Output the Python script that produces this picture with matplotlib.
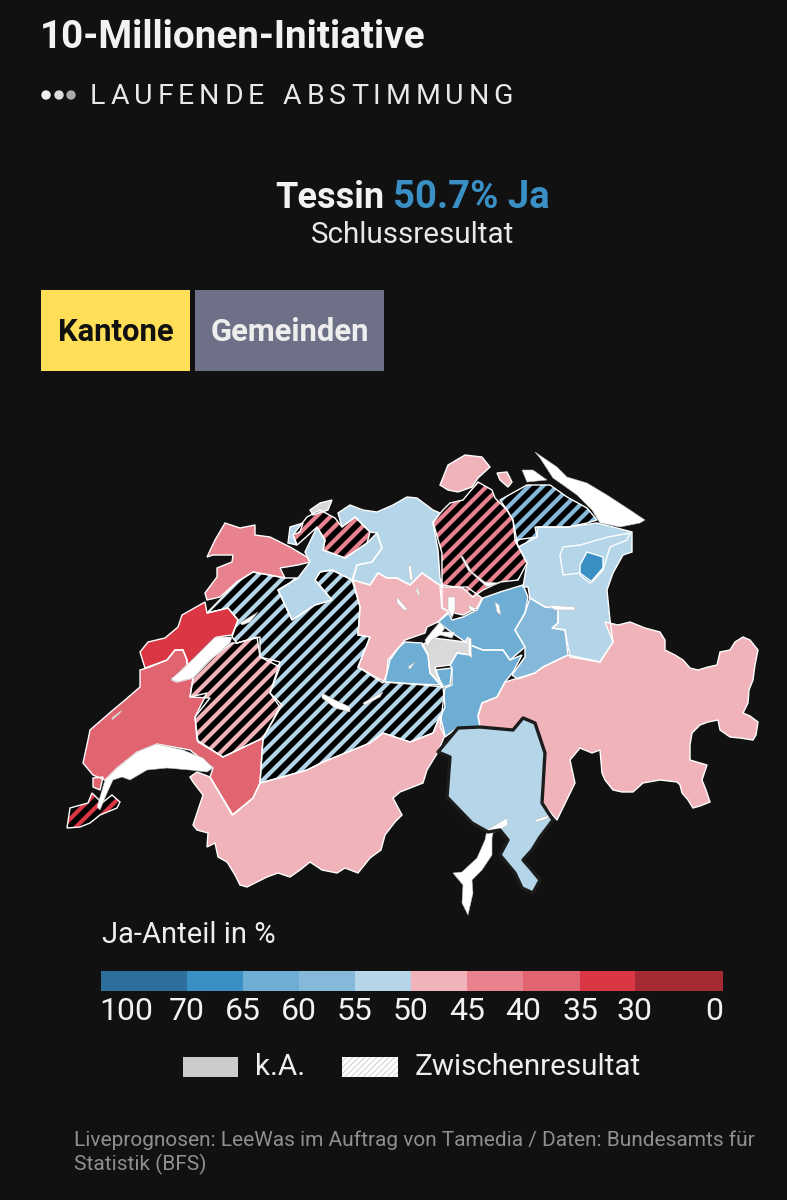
import matplotlib
matplotlib.use("Agg")
import matplotlib.pyplot as plt
import numpy as np
from matplotlib.collections import LineCollection
from matplotlib.patches import Circle, Polygon, Rectangle

BG = "#111111"
FONT = "Roboto"

# legend classes, Ja-Anteil in %
BIN_EDGES = [100, 70, 65, 60, 55, 50, 45, 40, 35, 30, 0]
BIN_COLORS = ["#2f6f9b", "#3a8fc4", "#6eaed4", "#86b8da", "#b5d6e8",
              "#f0b3b9", "#e7828e", "#e06570", "#da3644", "#a42a33"]
LEGEND_POS = [101, 187, 243, 299, 355, 411, 467, 523, 580, 635, 723]

# estimated share per canton, None = k.A.
JA_SHARE = {
    "GE": 32, "VD": 37, "VD2": 37, "NE": 32, "JU": 42, "BE": 52, "FR": 47, "SO": 52, "SO2": 52,
    "BL": 42, "BS": None, "AG": 52, "LU": 47, "ZG": 47, "SZ": 62, "GL": 57,
    "UR": 62, "NW": None, "OW": 62, "OW2": 62, "ZH": 42, "SH": 47, "SH2": 47, "TG": 57,
    "SG": 52, "AR": 52, "AI": 67, "GR": 47, "TI": 50.7, "VS": 47,
}
INTERIM = ["GE", "FR", "BE", "BL", "ZH", "TG"]

# outlines in map units
GE = [(67, 828), (70, 808), (88, 803), (92, 793), (97, 798), (102, 803), (112, 795),
      (120, 802), (117, 808), (100, 815), (90, 823), (80, 827)]
VD = [(83, 763), (88, 740), (90, 730), (113, 710), (125, 700), (140, 687), (140, 670), (150, 667),
      (167, 660), (175, 650), (183, 650), (187, 660), (187, 665), (172, 680), (177, 682), (193, 678),
      (190, 697), (207, 693), (195, 717), (197, 740), (223, 757), (263, 738), (260, 783), (253, 798),
      (233, 815), (210, 777), (213, 768), (190, 750), (157, 744), (137, 752), (117, 768), (105, 780),
      (93, 775)]
VD2 = [(93, 778), (103, 777), (100, 790), (93, 787)]
NE = [(140, 652), (148, 642), (165, 638), (178, 627), (182, 615), (205, 602), (207, 613), (228, 608),
      (238, 620), (232, 635), (217, 637), (197, 657), (187, 665), (187, 660), (183, 650), (175, 650),
      (167, 660), (145, 668)]
JU = [(207, 557), (215, 540), (225, 523), (240, 528), (255, 525), (255, 535), (270, 537), (290, 547),
      (307, 557), (310, 562), (298, 565), (280, 568), (285, 578), (253, 572), (237, 582), (220, 597),
      (207, 600), (205, 593), (217, 577), (217, 568), (232, 562), (233, 555), (213, 555)]
BE = [(207, 613), (237, 582), (253, 572), (285, 578), (298, 578), (278, 590), (285, 605), (292, 620),
      (315, 605), (332, 600), (315, 580), (320, 572), (332, 570), (352, 580), (360, 607), (358, 635),
      (370, 637), (358, 667), (385, 682), (413, 684), (443, 687), (445, 707), (433, 733), (410, 742),
      (383, 733), (370, 743), (323, 762), (307, 770), (283, 777), (260, 783), (263, 738), (280, 707),
      (270, 693), (280, 667), (260, 657), (260, 637), (237, 643), (232, 637), (238, 620), (228, 608)]
FR = [(257, 637), (260, 657), (280, 662), (270, 693), (282, 705), (263, 738), (223, 757), (198, 742),
      (195, 717), (210, 698), (190, 697), (193, 678), (213, 657), (232, 643), (237, 643)]
SO = [(310, 562), (305, 552), (317, 527), (325, 540), (323, 550), (345, 558), (367, 543), (377, 533),
      (382, 548), (372, 562), (357, 565), (352, 580), (332, 570), (320, 572), (315, 580), (332, 600),
      (315, 605), (292, 620), (285, 605), (278, 590), (298, 578)]
SO2 = [(290, 527), (303, 523), (300, 532), (293, 535), (297, 545), (288, 543)]
BL = [(307, 517), (320, 510), (335, 518), (342, 527), (355, 517), (370, 532), (367, 543), (345, 558),
      (323, 550), (325, 540), (317, 527), (305, 538), (297, 545), (293, 535)]
BS = [(310, 510), (320, 503), (332, 500), (328, 510), (313, 515)]
AG = [(338, 513), (350, 505), (363, 510), (377, 512), (393, 505), (407, 497), (417, 498), (433, 510),
      (440, 513), (433, 523), (438, 550), (440, 578), (443, 587), (422, 573), (410, 585), (397, 578),
      (387, 578), (378, 573), (370, 585), (353, 580), (357, 565), (372, 562), (382, 548), (377, 533),
      (370, 532), (355, 517), (342, 527)]
LU = [(353, 580), (370, 585), (378, 573), (387, 578), (397, 578), (410, 585), (422, 573), (442, 587),
      (442, 608), (450, 612), (438, 622), (427, 627), (425, 633), (405, 640), (397, 650), (390, 660),
      (387, 673), (383, 683), (358, 667), (370, 637), (358, 635), (360, 607)]
ZG = [(440, 587), (467, 587), (482, 598), (477, 608), (463, 615), (450, 612), (442, 608)]
SZ = [(483, 598), (500, 592), (513, 588), (523, 585), (528, 597), (525, 613), (515, 630), (525, 647),
      (510, 660), (503, 650), (483, 650), (470, 645), (455, 635), (438, 622), (448, 612), (452, 620),
      (463, 617), (477, 610)]
GL = [(530, 598), (545, 607), (558, 608), (558, 623), (552, 628), (565, 630), (568, 655), (543, 667),
      (535, 673), (518, 679), (512, 675), (525, 657), (525, 647), (515, 630), (525, 613)]
UR = [(470, 645), (483, 650), (503, 650), (510, 660), (522, 655), (513, 672), (505, 682), (497, 697),
      (482, 703), (478, 717), (480, 727), (457, 728), (445, 737), (440, 727), (445, 688), (452, 685),
      (452, 668), (450, 665), (457, 653), (470, 655)]
NW = [(422, 645), (433, 638), (450, 640), (465, 642), (468, 637), (470, 655), (457, 653), (450, 665),
      (435, 667), (442, 687), (430, 673), (428, 655)]
OW = [(388, 660), (398, 648), (405, 642), (422, 643), (428, 655), (430, 673), (443, 685), (413, 684),
      (385, 682), (387, 672)]
OW2 = [(435, 670), (452, 668), (450, 685), (443, 687)]
ZH = [(433, 522), (443, 510), (450, 503), (463, 500), (478, 482), (492, 490), (495, 498), (507, 510),
      (513, 520), (515, 540), (527, 563), (518, 580), (500, 582), (483, 590), (473, 597), (463, 588),
      (442, 585), (442, 553)]
SH = [(440, 485), (448, 465), (465, 455), (482, 457), (490, 467), (478, 478), (472, 487), (458, 492),
      (448, 490)]
SH2 = [(497, 473), (507, 472), (512, 482), (508, 487), (500, 480)]
TG = [(500, 500), (527, 485), (550, 485), (567, 497), (587, 508), (597, 520), (587, 523), (568, 527),
      (537, 527), (537, 537), (518, 547), (513, 520), (507, 510)]
SG = [(535, 527), (568, 527), (597, 523), (613, 527), (632, 532), (632, 552), (623, 555), (613, 573),
      (607, 590), (610, 620), (613, 642), (600, 662), (570, 657), (565, 630), (552, 628), (558, 623),
      (558, 608), (545, 607), (530, 598), (528, 587), (523, 587), (527, 563), (515, 540), (537, 537)]
AR = [(563, 547), (580, 545), (608, 537), (630, 533), (627, 540), (610, 547), (603, 570), (592, 582),
      (580, 573), (563, 575), (560, 555)]
AI = [(580, 565), (587, 552), (603, 557), (603, 568), (590, 583), (580, 575)]
GR = [(605, 622), (618, 625), (630, 622), (645, 628), (660, 632), (665, 640), (665, 650), (675, 655),
      (683, 660), (690, 668), (698, 670), (708, 667), (717, 665), (720, 652), (730, 650), (735, 642),
      (743, 637), (750, 640), (758, 650), (755, 665), (753, 680), (749, 690), (748, 703), (743, 713),
      (750, 716), (758, 722), (756, 735), (753, 740), (740, 738), (730, 737), (720, 730), (718, 720),
      (708, 722), (700, 725), (692, 733), (690, 745), (690, 760), (700, 763), (707, 765), (702, 780),
      (706, 790), (710, 802), (700, 806), (693, 808), (688, 800), (682, 793), (680, 785), (677, 782),
      (660, 780), (643, 783), (633, 792), (622, 792), (613, 790), (605, 780), (602, 773), (600, 750),
      (592, 753), (580, 748), (570, 760), (575, 783), (557, 820), (542, 803), (542, 787), (545, 753),
      (535, 723), (523, 718), (513, 730), (480, 727), (478, 715), (482, 703), (497, 697), (505, 682),
      (535, 673), (543, 667), (568, 655), (600, 662), (613, 642)]
TI = [(438, 752), (458, 728), (480, 727), (513, 730), (523, 718), (535, 723), (545, 753), (542, 803),
      (553, 820), (540, 837), (532, 850), (523, 860), (530, 868), (540, 880), (533, 893), (522, 888),
      (515, 873), (500, 855), (508, 840), (500, 830), (488, 832), (472, 823), (447, 797), (450, 757)]
VS = [(190, 777), (197, 772), (210, 777), (232, 815), (253, 798), (260, 783), (307, 770), (323, 762),
      (370, 743), (383, 733), (410, 742), (433, 733), (440, 715), (445, 735), (438, 752), (427, 770),
      (423, 783), (400, 792), (393, 798), (402, 815), (395, 822), (385, 835), (381, 850), (370, 858),
      (358, 873), (345, 868), (337, 873), (322, 870), (310, 862), (300, 870), (290, 877), (278, 873),
      (267, 877), (255, 883), (247, 887), (240, 885), (235, 875), (227, 862), (218, 857), (215, 843),
      (207, 847), (208, 833), (197, 830), (193, 825), (198, 810), (203, 795), (193, 782)]
OUTLINES = {"GE": GE, "VD": VD, "VD2": VD2, "NE": NE, "JU": JU, "BE": BE, "FR": FR, "SO": SO, "SO2": SO2,
            "BL": BL, "BS": BS, "AG": AG, "LU": LU, "ZG": ZG, "SZ": SZ, "GL": GL, "UR": UR, "NW": NW,
            "OW": OW, "OW2": OW2, "ZH": ZH, "SH": SH, "SH2": SH2, "TG": TG, "SG": SG, "AR": AR, "AI": AI,
            "GR": GR, "TI": TI, "VS": VS}

LAKES = [
    [(213, 768), (203, 758), (183, 750), (157, 744), (137, 752), (117, 768), (105, 780), (100, 797), (97, 807),
     (100, 810), (107, 793), (113, 780), (122, 777), (130, 780), (147, 770), (167, 768), (190, 770), (207, 772)],
    [(232, 637), (215, 637), (197, 655), (182, 670), (171, 679), (177, 682), (193, 678), (207, 663),
     (220, 652), (230, 643)],
    [(535, 452), (557, 467), (567, 477), (587, 483), (607, 495), (627, 508), (645, 520), (640, 523),
     (620, 527), (600, 523), (592, 510), (577, 495), (563, 485), (553, 478), (540, 458)],
    [(522, 470), (533, 470), (547, 480), (527, 482)],
    [(460, 555), (468, 570), (487, 587), (500, 583), (485, 582), (472, 572), (463, 557)],
    [(425, 640), (433, 630), (440, 622), (445, 628), (442, 632), (455, 632), (452, 638), (440, 635),
     (432, 640), (427, 647)],
    [(487, 830), (507, 818), (508, 825), (493, 833), (492, 838), (492, 855), (482, 870), (472, 880),
     (473, 893), (468, 915), (462, 903), (463, 885), (453, 873), (462, 872), (477, 858), (485, 840)],
    [(322, 693), (335, 700), (350, 707), (350, 712), (335, 708), (322, 698)],
    [(363, 703), (383, 692), (380, 697), (365, 705)],
    [(240, 623), (258, 612), (250, 622), (242, 625)],
    [(397, 597), (408, 610), (404, 610), (397, 603)],
    [(408, 565), (411, 566), (413, 580), (410, 580)],
    [(417, 587), (420, 595), (418, 595), (416, 590)],
    [(408, 667), (415, 662), (413, 665), (410, 669)],
    [(448, 597), (455, 597), (455, 610), (452, 618), (448, 610)],
    [(468, 605), (475, 608), (475, 612), (470, 610)],
    [(495, 602), (499, 605), (501, 615), (497, 612)],
    [(547, 605), (575, 607), (575, 610), (555, 610)],
    [(468, 638), (471, 638), (472, 658), (468, 655)],
    [(112, 718), (122, 710), (120, 713), (112, 720)],
    [(535, 820), (549, 815), (547, 819), (536, 822)],
]


def share_color(share):
    if share is None:
        return "#d9d9d9"
    for i in range(len(BIN_COLORS)):
        if BIN_EDGES[i + 1] <= share <= BIN_EDGES[i]:
            return BIN_COLORS[i]
    return "#d9d9d9"


def add_stripes(ax, patch, spacing=14, lw=4.1, color="black"):
    xs = patch.get_patch_transform().transform(patch.get_path().vertices)
    c_min = (xs[:, 0] + xs[:, 1]).min()
    c_max = (xs[:, 0] + xs[:, 1]).max()
    segs = []
    for c in np.arange(c_min - c_min % spacing, c_max + spacing, spacing):
        segs.append([(c - 2000, 2000), (c + 2000, -2000)])
    lines = LineCollection(segs, colors=color, linewidths=lw, zorder=patch.get_zorder() + 0.1)
    ax.add_collection(lines)
    lines.set_clip_path(patch.get_path(), patch.get_transform())


def spaced_text(ax, fig, x, y, s, gap, **kw):
    r = fig.canvas.get_renderer()
    for ch in s:
        t = ax.text(x, y, ch, va="center", ha="left", **kw)
        if ch == " ":
            x += 9 + gap
        else:
            x += t.get_window_extent(r).width + gap


fig = plt.figure(figsize=(7.87, 12), dpi=100, facecolor=BG)
ax = fig.add_axes([0, 0, 1, 1])
ax.set_xlim(0, 787)
ax.set_ylim(1200, 0)
ax.axis("off")

# header
ax.text(40, 37, "10-Millionen-Initiative", color="#f2f2f2", fontsize=27.8, fontweight="bold",
        family=FONT, va="center")
for dx, col in zip([46, 59, 71], ["#f2f2f2", "#dddddd", "#aaaaaa"]):
    ax.add_patch(Circle((dx, 95), 4.7, color=col, lw=0))
spaced_text(ax, fig, 90, 97, "LAUFENDE ABSTIMMUNG", 4.9, color="#e8e8e8", fontsize=20.5, family=FONT)

ax.text(275, 198, "Tessin", color="#f2f2f2", fontsize=26, fontweight="bold", family=FONT, va="center")
ax.text(393, 198, "50.7% Ja", color="#3a8fc4", fontsize=27.5, fontweight="bold", family=FONT, va="center")
ax.text(412.5, 235, "Schlussresultat", color="#e8e8e8", fontsize=21.3, family=FONT, va="center", ha="center")

# buttons
ax.add_patch(Rectangle((41, 290), 149, 81, color="#ffdf57", lw=0))
ax.add_patch(Rectangle((195, 290), 189, 81, color="#6e7087", lw=0))
ax.text(115.5, 332, "Kantone", color="#111111", fontsize=22.3, fontweight="bold", family=FONT,
        ha="center", va="center")
ax.text(289.5, 332, "Gemeinden", color="#eeeeee", fontsize=22.3, fontweight="bold", family=FONT,
        ha="center", va="center")

# map
for key, outline in OUTLINES.items():
    poly = Polygon(outline, closed=True, facecolor=share_color(JA_SHARE[key]), edgecolor="none", zorder=2)
    ax.add_patch(poly)
    if key in INTERIM:
        add_stripes(ax, poly)
for key, outline in OUTLINES.items():
    if key == "TI":
        continue
    ax.add_patch(Polygon(outline, closed=True, facecolor="none", edgecolor="white", lw=1.0, zorder=3))
for lake in LAKES:
    ax.add_patch(Polygon(lake, closed=True, facecolor="white", edgecolor="#bbbbbb", lw=0.4, zorder=4))
ax.add_patch(Polygon(TI, closed=True, facecolor="none", edgecolor="#1c1c1c", lw=2.4, zorder=5,
                     joinstyle="round"))

# legend
ax.text(102, 935, "Ja-Anteil in %", color="#eeeeee", fontsize=21, family=FONT, va="center")
for i, col in enumerate(BIN_COLORS):
    ax.add_patch(Rectangle((LEGEND_POS[i], 971), LEGEND_POS[i + 1] - LEGEND_POS[i], 20, color=col, lw=0))
for i, (edge, pos) in enumerate(zip(BIN_EDGES, LEGEND_POS)):
    ha = "left" if i == 0 else "right" if i == len(BIN_EDGES) - 1 else "center"
    ax.text(pos - 2 if i == 0 else pos, 1011, str(edge), color="#f2f2f2", fontsize=23, family=FONT,
            ha=ha, va="center")

ax.add_patch(Rectangle((183, 1057), 55, 20, color="#cccccc", lw=0))
ax.text(255, 1067, "k.A.", color="#eeeeee", fontsize=21.3, family=FONT, va="center")
swatch = Rectangle((342, 1057), 56, 20, facecolor="white", lw=0, zorder=2)
ax.add_patch(swatch)
add_stripes(ax, swatch, spacing=6, lw=0.7, color="#cfcfcf")
ax.text(415, 1067, "Zwischenresultat", color="#eeeeee", fontsize=21.3, family=FONT, va="center")

# footer
ax.text(74, 1140, "Liveprognosen: LeeWas im Auftrag von Tamedia / Daten: Bundesamts für",
        color="#8f8f8f", fontsize=15, family=FONT, va="center")
ax.text(74, 1164, "Statistik (BFS)", color="#8f8f8f", fontsize=15, family=FONT, va="center")

fig.savefig("out.png", dpi=100, facecolor=BG)
